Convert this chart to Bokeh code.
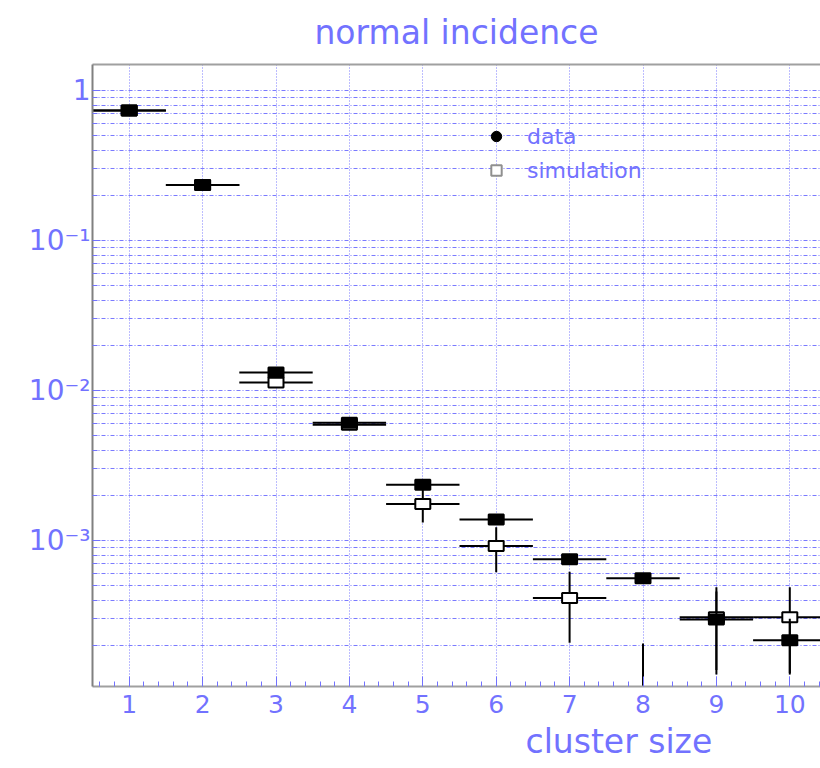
from bokeh.plotting import figure
from bokeh.models import (Range1d, FixedTicker, Legend, LegendItem, Title,
                          LinearAxis, ColumnDataSource)
from bokeh.embed import file_html
from bokeh.resources import INLINE
import numpy as np

# ---- data ----
cluster_size = [1, 2, 3, 4, 5, 6, 7, 8, 9, 10]
data_val = [0.735, 0.234, 0.0132, 0.0061, 0.00235, 0.00138, 7.5e-4, 5.6e-4, 2.97e-4, 2.16e-4]
data_err = [0.01, 0.004, 0.0003, 0.0002, 0.00009, 0.00007, 0.00004, 0.00003, 0.00016, 0.000085]
sim_val = [0.735, 0.234, 0.0113, 0.0059, 0.00175, 0.00092, 4.13e-4, 0.8e-4, 3.08e-4, 3.08e-4]
sim_err = [0.01, 0.004, 0.0006, 0.00045, 0.00043, 0.000305, 0.000205, 0.000126, 0.00018, 0.00018]
x_tick_labels = ["1", "2", "3", "4", "5", "6", "7", "8", "9", "10"]
y_decades = [1, 0.1, 0.01, 0.001]
y_tick_labels = ["1", "10⁻¹", "10⁻²", "10⁻³"]

BLUE = "#7272ff"
GRID = "#7a7aff"

# layout geometry (pixels)
W, H = 820, 768
LEFT, TOP, BOTTOM = 92, 64, 686
PX_PER_UNIT = 73.4
PX_PER_DECADE = 150.0
Y_ONE = 90  # pixel row of y = 1


def X(px):
    return 0.5 + (px - LEFT) / PX_PER_UNIT


def Y(py):
    return 10 ** (-(py - Y_ONE) / PX_PER_DECADE)


p = figure(width=W, height=H, y_axis_type="log",
           x_range=Range1d(X(LEFT), X(W)), y_range=Range1d(Y(BOTTOM), Y(TOP)),
           output_backend="svg", toolbar_location=None,
           min_border_left=LEFT, min_border_right=0,
           min_border_top=TOP, min_border_bottom=H - BOTTOM)
p.outline_line_color = None
p.background_fill_color = "white"
p.border_fill_color = "white"

# ---- title ----
p.title.text = "normal incidence"
p.title.align = "center"
p.title.vertical_align = "top"
p.title.text_color = BLUE
p.title.text_font = "DejaVu Sans"
p.title.text_font_size = "33px"
p.title.text_font_style = "normal"
p.title.offset = 414 - (LEFT + W) / 2
p.title.standoff = 22

# ---- axes ----
xt = FixedTicker(ticks=cluster_size,
                 minor_ticks=[round(i * 0.2, 1) for i in range(3, 53) if i % 5 != 0])
p.xaxis.ticker = xt
p.xaxis.major_label_overrides = {c: t for c, t in zip(cluster_size, x_tick_labels)}
p.xaxis.axis_line_color = "#a0a0a0"
p.xaxis.axis_line_width = 2
p.xaxis.major_tick_in = 10
p.xaxis.major_tick_out = 0
p.xaxis.minor_tick_in = 5
p.xaxis.minor_tick_out = 0
p.xaxis.major_tick_line_color = BLUE
p.xaxis.minor_tick_line_color = BLUE
p.xaxis.major_label_text_color = BLUE
p.xaxis.major_label_text_font = "DejaVu Sans"
p.xaxis.major_label_text_font_size = "25px"
p.xaxis.major_label_standoff = 8

yminor = [k * 10.0 ** e for e in range(-4, 1) for k in range(2, 10)]
yt = FixedTicker(ticks=y_decades, minor_ticks=yminor)
p.yaxis.ticker = yt
p.yaxis.major_label_overrides = {v: t for v, t in zip(y_decades, y_tick_labels)}
p.yaxis.axis_line_color = "#808080"
p.yaxis.axis_line_width = 2
p.yaxis.major_tick_in = 8
p.yaxis.major_tick_out = 0
p.yaxis.minor_tick_in = 5
p.yaxis.minor_tick_out = 0
p.yaxis.major_tick_line_color = BLUE
p.yaxis.minor_tick_line_color = BLUE
p.yaxis.major_label_text_color = BLUE
p.yaxis.major_label_text_font = "DejaVu Sans"
p.yaxis.major_label_text_font_size = "28px"
p.yaxis.major_label_standoff = 2

top_axis = LinearAxis(ticker=FixedTicker(ticks=[]), axis_line_color="#a0a0a0",
                      axis_line_width=2, major_tick_line_color=None,
                      minor_tick_line_color=None, major_label_text_font_size="0px",
                      major_label_standoff=0)
p.add_layout(top_axis, "above")

p.add_layout(Title(text="cluster size", align="left", offset=525 - LEFT,
                   vertical_align="bottom",
                   text_color=BLUE, text_font="DejaVu Sans", text_font_size="33px",
                   text_font_style="normal", standoff=8), "below")

# ---- grid ----
p.xgrid.grid_line_color = GRID
p.xgrid.grid_line_dash = "1 2"
p.xgrid.grid_line_width = 1
p.ygrid.grid_line_color = GRID
p.ygrid.grid_line_dash = "4 2 1 2"
p.ygrid.minor_grid_line_color = GRID
p.ygrid.minor_grid_line_dash = "4 2 1 2"

# ---- points with error bars ----
x = np.array(cluster_size, dtype=float)
d = np.array(data_val)
de = np.array(data_err)
s = np.array(sim_val)
se = np.array(sim_err)

src_s = ColumnDataSource(dict(x=x, y=s, x0=x - 0.5, x1=x + 0.5,
                              ylo=np.maximum(s - se, 1e-7), yhi=s + se))
src_d = ColumnDataSource(dict(x=x, y=d, x0=x - 0.5, x1=x + 0.5,
                              ylo=np.maximum(d - de, 1e-7), yhi=d + de))

for src, fill in ((src_s, "white"), (src_d, "black")):
    p.segment("x0", "y", "x1", "y", source=src, line_color="black", line_width=2)
    p.segment("x", "ylo", "x", "yhi", source=src, line_color="black", line_width=2)
    p.rect("x", "y", width=15, height=10, width_units="screen", height_units="screen",
           source=src, fill_color=fill, line_color="black", line_width=2)

# ---- legend (proxy glyphs placed outside the visible range) ----
r_leg_d = p.scatter(x=[-100], y=[1], marker="circle", size=11, fill_color="black",
                    line_color="black")
r_leg_s = p.scatter(x=[-100], y=[1], marker="square", size=10, fill_color="white",
                    line_color="#909090", line_width=2)
legend = Legend(items=[LegendItem(label="data", renderers=[r_leg_d]),
                       LegendItem(label="simulation", renderers=[r_leg_s])],
                location=(483 - LEFT, BOTTOM - 123 - 60),
                glyph_width=26, glyph_height=26, label_height=26,
                spacing=8, label_standoff=18, padding=0, margin=0,
                border_line_color=None, background_fill_alpha=0,
                label_text_color=BLUE, label_text_font="DejaVu Sans",
                label_text_font_size="22px")
p.add_layout(legend)

open("out.html", "w").write(file_html(p, INLINE))
